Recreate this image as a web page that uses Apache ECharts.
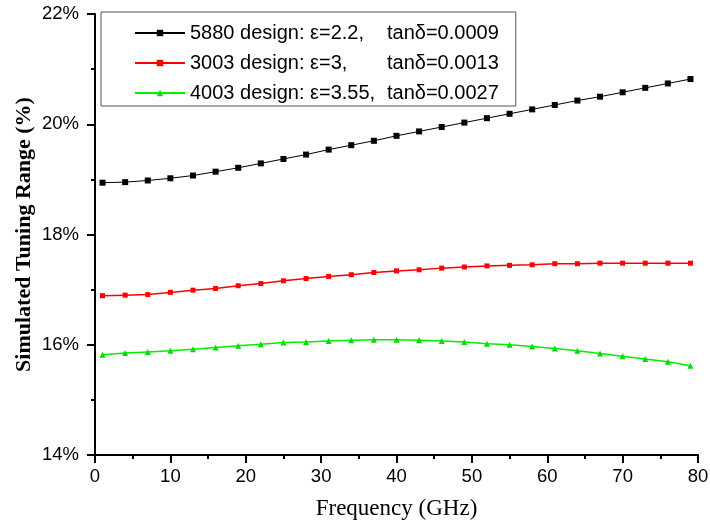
<!DOCTYPE html>
<html>
<head>
<meta charset="utf-8">
<script src="https://cdn.jsdelivr.net/npm/echarts@6/dist/echarts.min.js"></script>
<style>
  html, body { margin: 0; padding: 0; background: #fff; }
  #chart { width: 710px; height: 524px; }
</style>
</head>
<body>
<div id="chart"></div>
<script>
// frequency points (GHz)
var freqs = [1, 4, 7, 10, 13, 16, 19, 22, 25, 28, 31, 34, 37, 40, 43, 46, 49, 52, 55, 58, 61, 64, 67, 70, 73, 76, 79];

// simulated tuning range (%)
var tr5880 = [18.94, 18.95, 18.98, 19.02, 19.07, 19.14, 19.21, 19.29, 19.37, 19.45, 19.54, 19.62, 19.70, 19.79, 19.87, 19.95, 20.03, 20.11, 20.19, 20.27, 20.35, 20.43, 20.50, 20.58, 20.66, 20.74, 20.82];
var tr3003 = [16.89, 16.90, 16.91, 16.95, 16.99, 17.02, 17.07, 17.11, 17.16, 17.20, 17.24, 17.27, 17.31, 17.34, 17.36, 17.39, 17.41, 17.43, 17.44, 17.45, 17.47, 17.47, 17.48, 17.48, 17.48, 17.48, 17.48];
var tr4003 = [15.82, 15.85, 15.87, 15.89, 15.92, 15.95, 15.98, 16.01, 16.04, 16.05, 16.07, 16.08, 16.09, 16.09, 16.08, 16.07, 16.05, 16.02, 16.00, 15.97, 15.93, 15.89, 15.84, 15.79, 15.74, 15.69, 15.62];

var legendLeft = ['5880 design: \u03b5=2.2,', '3003 design: \u03b5=3,', '4003 design: \u03b5=3.55,'];
var legendRight = ['tan\u03b4=0.0009', 'tan\u03b4=0.0013', 'tan\u03b4=0.0027'];
var names = legendLeft.map(function (l, i) { return l + ' ' + legendRight[i]; });

function pairs(ys) {
	return freqs.map(function (x, i) { return [x, ys[i]]; });
}

var chart = echarts.init(document.getElementById('chart'));

var axisCommon = {
	axisLine: { lineStyle: { color: '#000', width: 2 } },
	axisTick: { inside: false, length: 8, lineStyle: { color: '#000', width: 2 } },
	minorTick: { show: true, splitNumber: 2, length: 4, lineStyle: { color: '#000', width: 2 } },
	splitLine: { show: false },
	minorSplitLine: { show: false },
	axisLabel: { color: '#000', fontFamily: 'Liberation Sans', fontSize: 18.5 }
};

var option = {
	animation: false,
	backgroundColor: '#fff',
	grid: { left: 95, right: 12, top: 14, bottom: 69, containLabel: false, outerBoundsMode: 'none' },
	legend: {
		left: 101,
		top: 12,
		orient: 'vertical',
		padding: [11, 17, 3, 33],
		borderColor: '#555',
		borderWidth: 1,
		itemWidth: 50,
		itemHeight: 8,
		itemGap: 10,
		data: names,
		formatter: function (name) {
			var i = names.indexOf(name);
			return '{a|' + legendLeft[i] + '}{b|' + legendRight[i] + '}';
		},
		textStyle: {
			color: '#000',
			fontFamily: 'Liberation Sans',
			fontSize: 20,
			rich: {
				a: { width: 197, fontFamily: 'Liberation Sans', fontSize: 20, lineHeight: 20, color: '#000' },
				b: { fontFamily: 'Liberation Sans', fontSize: 20, lineHeight: 20, color: '#000' }
			}
		}
	},
	xAxis: Object.assign({}, axisCommon, {
		type: 'value',
		min: 0,
		max: 80,
		interval: 10,
		name: 'Frequency (GHz)',
		nameLocation: 'middle',
		nameGap: 42,
		nameMoveOverlap: false,
		nameTextStyle: { color: '#000', fontFamily: 'Liberation Serif', fontSize: 23 },
		axisLabel: Object.assign({}, axisCommon.axisLabel, { margin: 12 })
	}),
	yAxis: Object.assign({}, axisCommon, {
		type: 'value',
		min: 14,
		max: 22,
		interval: 2,
		name: 'Simulated Tuning Range (%)',
		nameLocation: 'middle',
		nameGap: 60,
		nameMoveOverlap: false,
		nameTextStyle: { color: '#000', fontFamily: 'Liberation Serif', fontSize: 22, fontWeight: 'bold' },
		axisLabel: Object.assign({}, axisCommon.axisLabel, {
			margin: 16,
			formatter: function (v) { return v + '%'; }
		})
	}),
	series: [
		{
			name: names[0],
			type: 'line',
			data: pairs(tr5880),
			symbol: 'rect',
			symbolSize: 6,
			color: '#000',
			lineStyle: { width: 1, color: '#000' },
			itemStyle: { color: '#000' }
		},
		{
			name: names[1],
			type: 'line',
			data: pairs(tr3003),
			symbol: 'rect',
			symbolSize: 5,
			color: '#ff0000',
			lineStyle: { width: 1.5, color: '#ff0000' },
			itemStyle: { color: '#ff0000' }
		},
		{
			name: names[2],
			type: 'line',
			data: pairs(tr4003),
			symbol: 'triangle',
			symbolSize: 6,
			color: '#00dd00',
			lineStyle: { width: 1.5, color: '#00ee00' },
			itemStyle: { color: '#00dd00' }
		}
	]
};

chart.setOption(option);
</script>
</body>
</html>
